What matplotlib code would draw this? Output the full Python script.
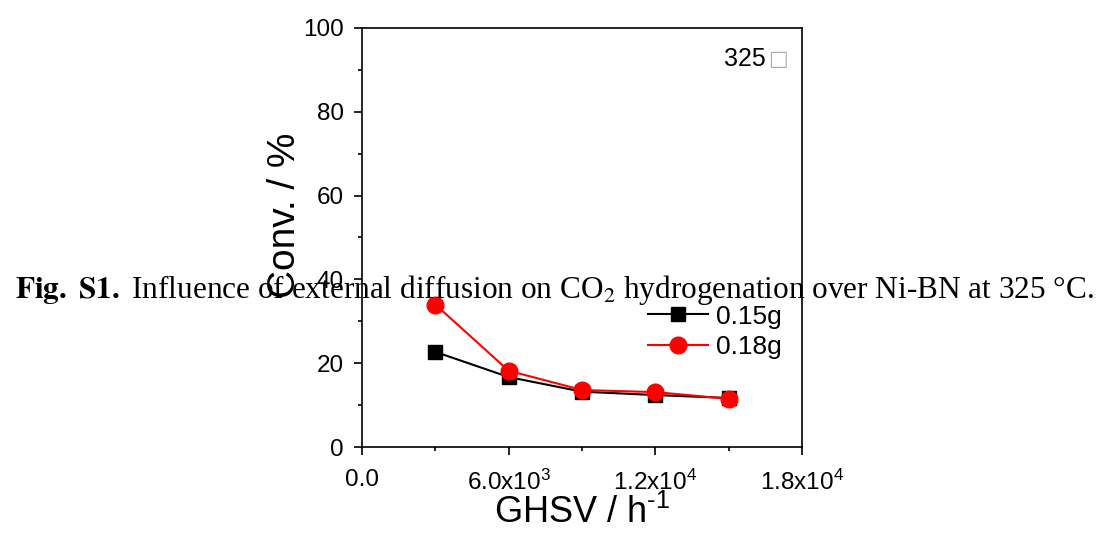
import matplotlib
matplotlib.use("Agg")
import matplotlib.pyplot as plt
from matplotlib.ticker import MultipleLocator, FixedLocator

plt.rcParams['font.family'] = ['Liberation Sans', 'DejaVu Sans']
plt.rcParams['mathtext.fontset'] = 'custom'
plt.rcParams['mathtext.rm'] = 'Liberation Sans'
plt.rcParams['mathtext.it'] = 'Liberation Sans:italic'
plt.rcParams['mathtext.bf'] = 'Liberation Sans:bold'

ghsv = [3000, 6000, 9000, 12000, 15000]
conv_015 = [22.7, 16.7, 13.2, 12.4, 11.7]
conv_018 = [34.0, 18.2, 13.6, 13.1, 11.5]
labels = ["0.15g", "0.18g"]
xticks = [0, 6000, 12000, 18000]
xtick_labels = ["0.0", "6.0x10$^3$", "1.2x10$^4$", "1.8x10$^4$"]

fig = plt.figure(figsize=(11.08, 5.36), dpi=100)
ax = fig.add_axes([362/1108, 1-447/536, 440/1108, 419/536])

ax.plot(ghsv, conv_015, color='black', marker='s', markersize=10, lw=1.5, label=labels[0])
ax.plot(ghsv, conv_018, color='red', marker='o', markersize=12, lw=1.5, label=labels[1])

ax.set_xlim(0, 18000)
ax.set_ylim(0, 100)
ax.xaxis.set_major_locator(FixedLocator(xticks))
ax.set_xticklabels(xtick_labels)
ax.xaxis.set_minor_locator(MultipleLocator(3000))
ax.yaxis.set_major_locator(MultipleLocator(20))
ax.yaxis.set_minor_locator(MultipleLocator(10))
ax.tick_params(which='major', direction='out', length=6, width=1.2, labelsize=17.5, top=False, right=False)
ax.tick_params(axis='x', which='major', pad=10)
ax.tick_params(axis='y', which='major', pad=7)
ax.tick_params(which='minor', direction='out', length=3, width=1.2, top=False, right=False)
for s in ax.spines.values():
    s.set_linewidth(1.2)

ax.set_xlabel(r"GHSV / h$^{\text{-}1}$", fontsize=26, labelpad=0)
ax.set_ylabel("Conv. / %", fontsize=28)
ax.yaxis.set_label_coords(-0.134, 0.554)

ax.text(0.918, 0.925, "325", transform=ax.transAxes, ha='right', va='center', fontsize=18)
ax.text(0.922, 0.925, "\u25a1", transform=ax.transAxes, ha='left', va='center', fontsize=15,
        color='#aaaaaa', family=['DejaVu Sans'])

ax.legend(loc='upper left', bbox_to_anchor=(0.65, 0.34), frameon=False, fontsize=19,
          handlelength=2.27, handletextpad=0.3, labelspacing=0.25, borderaxespad=0, borderpad=0)

fig.text(0.5, 1-290/536, r"$\mathbf{Fig.\ S1.}$ Influence of external diffusion on CO$_2$ hydrogenation over Ni-BN at 325 °C.",
         ha='center', va='center', fontsize=22.5, family=['Liberation Serif'], math_fontfamily='stix')

fig.savefig("out.png", dpi=100)
